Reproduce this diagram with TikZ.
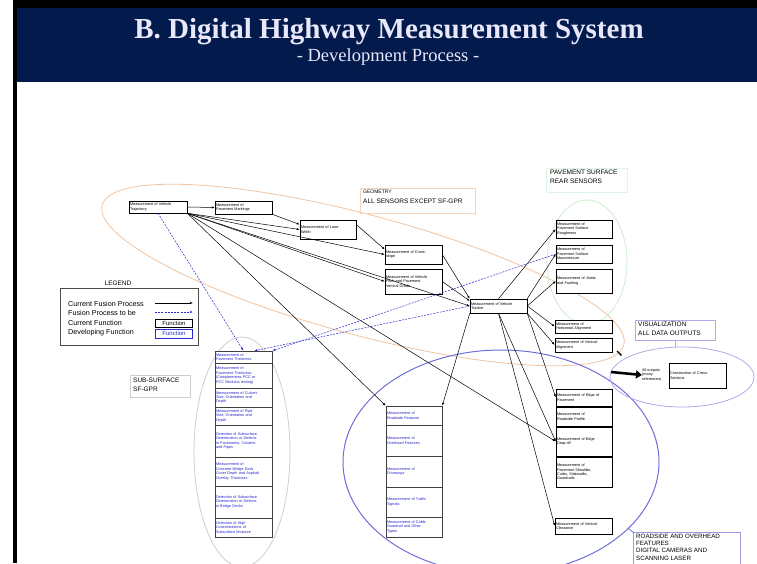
\documentclass[tikz,border=0pt]{standalone}
\usepackage{fontspec}
\setmainfont{Liberation Serif}
\newfontfamily\arialf{Liberation Sans}
\usetikzlibrary{arrows.meta}
\definecolor{navy}{RGB}{2,26,76}
\definecolor{titletext}{RGB}{232,232,250}
\definecolor{orangeE}{RGB}{240,195,160}
\definecolor{greenE}{RGB}{205,235,205}
\definecolor{grayE}{RGB}{205,205,205}
\definecolor{blueE}{RGB}{110,110,215}
\definecolor{purpleE}{RGB}{185,165,232}
\definecolor{devblue}{RGB}{40,40,205}
\tikzset{
  fbox/.style={draw=black, line width=0.5pt, fill=white, inner xsep=1pt, inner ysep=0.3pt,
    align=left, font=\arialf\fontsize{3.8}{4.4}\selectfont},
  dbox/.style={fbox, draw=black!75, text=devblue},
  cur/.style={-{Latex[length=3pt,width=2.2pt]}, line width=0.5pt, black},
  tobe/.style={-{Latex[length=3pt,width=2.2pt]}, line width=0.5pt, devblue, dash pattern=on 2pt off 1.2pt},
  lbl/.style={font=\arialf\fontsize{6.5}{8.5}\selectfont, align=left, inner sep=0pt, anchor=north west},
  legtext/.style={font=\arialf\fontsize{7.2}{8}\selectfont, anchor=west, inner sep=0pt},
}
\newcommand{\mybox}[7]{%
  \pgfmathsetmacro{\mybw}{#5-#3}%
  \pgfmathsetmacro{\mybh}{#6-#4}%
  \pgfmathsetmacro{\mytw}{#5-#3-2}%
  \node[#1, minimum width=\mybw pt, minimum height=\mybh pt, text width=\mytw pt] (#2) at ({(#3+#5)/2},{(#4+#6)/2}) {#7};}
\begin{document}
\begin{tikzpicture}[x=1pt,y=-1pt]
\useasboundingbox (0,0) rectangle (757,563);
% frame and banner
\fill[black] (13,0) rectangle (757,8);
\fill[black] (13,0) rectangle (17,563);
\fill[navy] (17,8) rectangle (757,82);
\node[anchor=base, text=titletext, font=\bfseries\fontsize{29}{31}\selectfont, inner sep=0pt] (title) at (389,38) {B. Digital Highway Measurement System};
\node[anchor=base, text=titletext, font=\fontsize{18.5}{20}\selectfont, inner sep=0pt] (subtitle) at (388,61) {- Development Process -};

% ellipses
\draw[orangeE, line width=0.8pt, rotate around={-15:(363,275)}] (363,275) ellipse (270 and 60);
\draw[greenE, line width=0.8pt] (587,262) ellipse (40 and 62);
\draw[grayE, line width=0.8pt] (242,452) ellipse (48 and 115);
\draw[blueE, line width=1pt] (501,462) ellipse (158 and 112);
\draw[purpleE, line width=0.8pt] (682,377) ellipse (72 and 30);

% label boxes
\draw[orangeE!70, line width=0.5pt] (360,188) rectangle (475,213);
\node[lbl, font=\arialf\fontsize{5}{6}\selectfont] (geo1) at (363,190) {GEOMETRY};
\node[lbl] (geo2) at (363,199) {ALL SENSORS EXCEPT SF-GPR};
\draw[greenE!60, line width=0.5pt] (546,168) rectangle (627,192);
\node[lbl] (pav) at (550,170) {PAVEMENT SURFACE\\REAR SENSORS};
\draw[grayE, line width=0.5pt] (130,375) rectangle (190,397);
\node[lbl] (sub) at (133,378) {SUB-SURFACE\\SF-GPR};
\node[draw=purpleE, line width=0.5pt, minimum width=80pt, minimum height=20pt, inner sep=0pt] (vislab) at (675,330) {};
\node[lbl] (vis) at (638,322) {VISUALIZATION\\ALL DATA OUTPUTS};
\coordinate (vistop) at (675,347);
\draw[purpleE, line width=0.5pt] (vislab.south) -- (vistop);
\draw[blueE!70, line width=0.5pt] (633,532) rectangle (740,575);
\node[lbl, font=\arialf\fontsize{6.2}{7.4}\selectfont] (road) at (636,533.5) {ROADSIDE AND OVERHEAD\\FEATURES\\DIGITAL CAMERAS AND\\SCANNING LASER};
\coordinate (roadE) at (628,528);
\coordinate (roadB) at (634,533);
\draw[blueE, line width=0.8pt] (roadE) -- (roadB);

% legend
\node[font=\arialf\fontsize{6.5}{7}\selectfont, inner sep=0pt] (legt) at (118,283) {LEGEND};
\draw[black!70, line width=0.5pt] (60,288) rectangle (198,345);
\node[legtext] (l1) at (68,304) {Current Fusion Process};
\node[legtext] (l2) at (68,313) {Fusion Process to be};
\node[legtext] (l3) at (68,323) {Current Function};
\node[legtext] (l4) at (68,333) {Developing Function};
\coordinate (l1a) at (155,303); \coordinate (l1b) at (193,303);
\coordinate (l2a) at (155,312); \coordinate (l2b) at (193,312);
\draw[cur] (l1a) -- (l1b);
\draw[tobe] (l2a) -- (l2b);
\node[draw=black, line width=0.5pt, minimum width=37pt, minimum height=8pt, inner sep=0pt, font=\arialf\fontsize{6}{7}\selectfont] (lf1) at (174,323.5) {Function};
\node[draw=devblue, line width=0.5pt, minimum width=37pt, minimum height=9pt, inner sep=0pt, text=devblue, font=\arialf\fontsize{6}{7}\selectfont] (lf2) at (174,333.5) {Function};

% top row
\mybox{fbox}{traj}{129}{201}{187}{213}{Measurement of Vehicle\\Trajectory}
\mybox{fbox}{mark}{215}{201}{272}{214}{Measurement of\\Pavement Markings}
\mybox{fbox}{lane}{300}{220}{356}{239}{Measurement of Lane\\Width}
\mybox{fbox}{cross}{385}{245}{442}{264}{Measurement of Cross-\\slope}
\mybox{fbox}{pitch}{385}{269}{442}{294}{Measurement of Vehicle\\Pitch and Pavement\\Vertical Grade}
\mybox{fbox}{tracker}{470}{299}{527}{313}{Measurement of Vehicle\\Tracker}
% right column
\mybox{fbox}{rough}{556}{220}{612}{238}{Measurement of\\Pavement Surface\\Roughness}
\mybox{fbox}{macro}{556}{245}{612}{263}{Measurement of\\Pavement Surface\\Macrotexture}
\mybox{fbox}{joints}{556}{269}{612}{293}{Measurement of Joints\\and Faulting}
\mybox{fbox}{halign}{555}{320}{612}{333}{Measurement of\\Horizontal Alignment}
\mybox{fbox}{valign}{555}{338}{612}{352}{Measurement of Vertical\\Alignment}
\mybox{fbox}{edge}{556}{389}{612}{406}{Measurement of Edge of\\Pavement}
\mybox{fbox}{rprof}{556}{407}{612}{426}{Measurement of\\Roadside Profile}
\mybox{fbox}{drop}{556}{427}{612}{456}{Measurement of Edge\\Drop-off}
\mybox{fbox}{shoulder}{556}{457}{612}{487}{Measurement of\\Pavement Shoulder,\\Curbs, Sidewalks,\\Guardrails.}
\mybox{fbox}{clear}{555}{518}{612}{534}{Measurement of Vertical\\Clearance}
% visualization
\mybox{fbox}{cxs}{669}{363}{726}{388}{Construction of Cross-\\Sections}
\node[font=\arialf\fontsize{3.8}{4.6}\selectfont, align=left, inner sep=0pt, anchor=west] (allout) at (642,375) {All outputs\\(many\\references)};
\coordinate (bigA) at (611,372);
\draw[line width=2.6pt, -{Triangle[length=6pt,width=8pt]}] (bigA) -- (allout.west);
\coordinate (smA) at (617,351);
\coordinate (smB) at (622,356);
\draw[line width=1.2pt, -{Latex[length=2.5pt,width=2.5pt]}] (smA) -- (smB);
% left column (sub-surface)
\mybox{dbox}{thick}{215}{351}{272}{363}{Measurement of\\Pavement Thickness}
\mybox{dbox}{thickb}{215}{363}{272}{388}{Measurement of\\Pavement Thickness\\(Completeness PCC or\\PCC Modulus testing)}
\mybox{dbox}{culv}{215}{388}{272}{407}{Measurement of Culvert\\Size, Orientation and\\Depth}
\mybox{dbox}{pipe}{215}{407}{272}{425}{Measurement of Pipe\\Size, Orientation and\\Depth}
\mybox{dbox}{det}{215}{425}{272}{457}{Detection of Subsurface\\Deterioration or Defects\\in Pavements, Culverts\\and Pipes}
\mybox{dbox}{deck}{215}{457}{272}{486}{Measurement of\\Concrete Bridge Deck\\Cover Depth and Asphalt\\Overlay Thickness}
\mybox{dbox}{detb}{215}{486}{272}{518}{Detection of Subsurface\\Deterioration or Defects\\in Bridge Decks}
\mybox{dbox}{moist}{215}{518}{272}{537}{Detection of High\\Concentrations of\\Subsurface Moisture}
% middle column
\mybox{dbox}{rf}{386}{406}{442}{425}{Measurement of\\Roadside Features}
\mybox{dbox}{of}{386}{425}{442}{456}{Measurement of\\Overhead Features}
\mybox{dbox}{drive}{386}{456}{442}{487}{Measurement of\\Driveways}
\mybox{dbox}{sig}{386}{487}{442}{517}{Measurement of Traffic\\Signals}
\mybox{dbox}{cable}{386}{517}{442}{537}{Measurement of Cable\\Guardrail and Other\\Types}

% current fusion connectors
\draw[cur] (traj.east) -- (mark.west);
\draw[cur] (traj.south east) -- (lane.west);
\draw[cur] (traj.south east) -- (cross.west);
\draw[cur] (traj.south east) -- (pitch.west);
\draw[cur] (traj.south east) -- (tracker.west);
\draw[cur] (traj.south east) -- (rf.north west);
\draw[cur] (traj.south east) -- (drop.west);
\draw[cur] (mark.south east) -- (lane.170);
\draw[cur] (lane.10) -- (cross.170);
\draw[cur] (cross.east) -- (tracker.north west);
\draw[cur] (pitch.east) -- (tracker.170);
\draw[cur] (tracker.north) -- (rough.west);
\draw[cur] (tracker.north east) -- (macro.west);
\draw[cur] (tracker.east) -- (joints.west);
\draw[cur] (tracker.east) -- (halign.west);
\draw[cur] (tracker.south east) -- (valign.west);
\draw[cur] (tracker.south west) -- (rf.north east);
\draw[cur] (tracker.south) -- (drop.west);
\draw[cur] (tracker.south) -- (clear.west);
\draw[cur] (tracker.south east) -- (edge.west);
% fusion process to be
\draw[tobe] (traj.south) -- (thick.north);
\draw[tobe] (tracker.west) -- (thick.30);
\draw[tobe] (macro.west) -- (thick.north east);
\end{tikzpicture}
\end{document}
